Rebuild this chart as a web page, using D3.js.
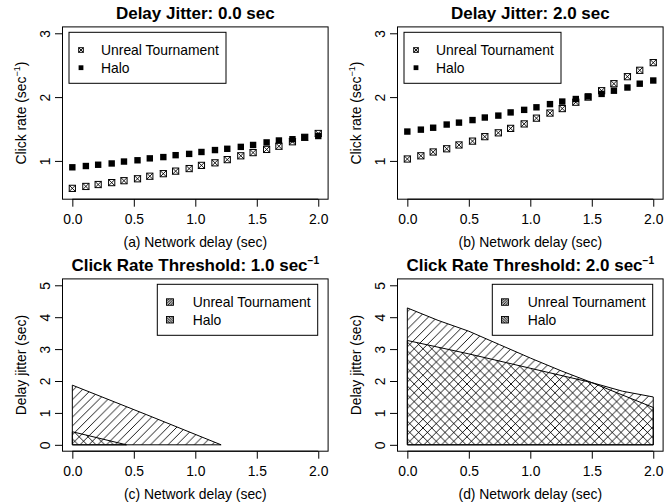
<!DOCTYPE html>
<html>
<head>
<meta charset="utf-8">
<script src="https://cdn.jsdelivr.net/npm/d3@7"></script>
<style>
body { margin: 0; background: #fff; }
svg { display: block; font-family: "Liberation Sans", Arial, Helvetica, sans-serif; }
</style>
</head>
<body>
<div id="chart"></div>
<script>
// network delay (sec) used in the two scatter panels
const delays = [0.00, 0.11, 0.21, 0.32, 0.42, 0.53, 0.63, 0.74, 0.84, 0.95,
                1.05, 1.16, 1.26, 1.37, 1.47, 1.58, 1.68, 1.79, 1.89, 2.00];

// click rate (1/sec), jitter 0.0 sec
const utJitter0 = [0.57, 0.60, 0.63, 0.66, 0.69, 0.72, 0.76, 0.80, 0.84, 0.88,
                   0.93, 0.97, 1.02, 1.08, 1.13, 1.18, 1.23, 1.30, 1.37, 1.43];
const haloJitter0 = [0.90, 0.92, 0.94, 0.96, 0.99, 1.01, 1.04, 1.06, 1.09, 1.11,
                     1.14, 1.17, 1.19, 1.22, 1.25, 1.29, 1.32, 1.34, 1.37, 1.39];

// click rate (1/sec), jitter 2.0 sec
const utJitter2 = [1.03, 1.08, 1.14, 1.19, 1.25, 1.31, 1.38, 1.44, 1.51, 1.58,
                   1.67, 1.75, 1.82, 1.92, 2.00, 2.10, 2.21, 2.32, 2.42, 2.54];
const haloJitter2 = [1.46, 1.49, 1.52, 1.57, 1.60, 1.64, 1.68, 1.71, 1.76, 1.80,
                     1.84, 1.89, 1.93, 1.97, 2.01, 2.05, 2.10, 2.15, 2.21, 2.26];

// max delay jitter (sec) below the click rate threshold
const utT1Delay = [0, 0.6, 1.21];
const utT1Jitter = [1.87, 0.95, 0];
const haloT1Delay = [0, 0.44];
const haloT1Jitter = [0.41, 0];

const utT2Delay = [0, 0.25, 0.5, 0.75, 1.0, 1.25, 1.5, 1.75, 2.0];
const utT2Jitter = [4.29, 3.90, 3.56, 3.14, 2.72, 2.32, 1.95, 1.68, 1.50];
const haloT2Delay = [0, 0.5, 1.0, 1.5, 2.0];
const haloT2Jitter = [3.27, 2.85, 2.40, 1.95, 1.17];

const xTicks = [0, 0.5, 1, 1.5, 2];
const xTickLabels = ["0.0", "0.5", "1.0", "1.5", "2.0"];
const rateTicks = [1, 2, 3];
const jitterTicks = [0, 1, 2, 3, 4, 5];
const gameNames = ["Unreal Tournament", "Halo"];

const box = { left: 62.5, right: 328.1, top: 26.9, bottom: 199.2 };
const labelSize = 13.9;
const titleSize = 17;

const svg = d3.select("#chart").append("svg")
    .attr("width", 670)
    .attr("height", 504);

// hatch patterns
const defs = svg.append("defs");
function hatch(id, s, up) {
    let p = defs.append("pattern")
        .attr("id", id)
        .attr("patternUnits", "userSpaceOnUse")
        .attr("width", s)
        .attr("height", s);
    let d = up
        ? `M0,${s} L${s},0 M${-s/4},${s/4} L${s/4},${-s/4} M${3*s/4},${5*s/4} L${5*s/4},${3*s/4}`
        : `M0,0 L${s},${s} M${-s/4},${3*s/4} L${s/4},${5*s/4} M${3*s/4},${-s/4} L${5*s/4},${s/4}`;
    p.append("path")
        .attr("d", d)
        .attr("stroke", "#000")
        .attr("stroke-width", 0.9)
        .attr("fill", "none");
}
hatch("hatchUp", 8.8, true);
hatch("hatchDown", 8.8, false);
hatch("keyUp", 2.6, true);
hatch("keyDown", 2.6, false);

function xScale() {
    return d3.scaleLinear().domain([-0.08, 2.08]).range([box.left, box.right]);
}

function drawFrame(g, x, y, yTicks, title, xlab, ylab, sup) {
    // bottom axis
    let ax = g.append("g")
        .attr("transform", `translate(0, ${box.bottom})`)
        .call(d3.axisBottom(x).tickValues(xTicks).tickSize(7.5).tickPadding(7.4)
            .tickFormat((d, i) => xTickLabels[i]));
    ax.select(".domain").remove();
    ax.selectAll("line").attr("stroke", "#000");
    ax.selectAll("text")
        .attr("font-size", labelSize)
        .attr("font-family", "Liberation Sans, Arial, sans-serif")
        .attr("fill", "#000");
    // axis line between first and last tick
    g.append("line")
        .attr("x1", x(0)).attr("x2", x(2))
        .attr("y1", box.bottom).attr("y2", box.bottom)
        .attr("stroke", "#000");

    // left axis, rotated labels
    let ay = g.append("g")
        .attr("transform", `translate(${box.left}, 0)`)
        .call(d3.axisLeft(y).tickValues(yTicks).tickSize(7.5).tickFormat(d3.format("d")));
    ay.select(".domain").remove();
    ay.selectAll("line").attr("stroke", "#000");
    ay.selectAll("text")
        .attr("font-size", labelSize)
        .attr("font-family", "Liberation Sans, Arial, sans-serif")
        .attr("fill", "#000")
        .attr("text-anchor", "middle")
        .attr("x", 0)
        .attr("y", -12.5)
        .attr("dy", 0)
        .attr("transform", "rotate(-90)");
    g.append("line")
        .attr("x1", box.left).attr("x2", box.left)
        .attr("y1", y(yTicks[0])).attr("y2", y(yTicks[yTicks.length - 1]))
        .attr("stroke", "#000");

    // plot box
    g.append("rect")
        .attr("x", box.left)
        .attr("y", box.top)
        .attr("width", box.right - box.left)
        .attr("height", box.bottom - box.top)
        .attr("fill", "none")
        .attr("stroke", "#000");

    // title
    let cx = (box.left + box.right) / 2;
    let t = g.append("text")
        .attr("x", cx)
        .attr("y", 19)
        .attr("text-anchor", "middle")
        .attr("font-weight", "bold")
        .attr("font-size", titleSize)
        .text(title);
    if (sup) {
        t.append("tspan").attr("font-size", titleSize * 0.6).attr("dy", -7).text("\u22121");
    }

    // x label
    g.append("text")
        .attr("x", cx)
        .attr("y", 247)
        .attr("text-anchor", "middle")
        .attr("font-size", labelSize)
        .text(xlab);

    // y label
    let yl = g.append("text")
        .attr("transform", `translate(25.5, ${(box.top + box.bottom) / 2}) rotate(-90)`)
        .attr("text-anchor", "middle")
        .attr("font-size", labelSize)
        .text(ylab[0]);
    if (ylab.length > 1) {
        yl.append("tspan").attr("font-size", labelSize * 0.65).attr("dy", -5.5).text("\u22121");
        yl.append("tspan").attr("dy", 5.5).text(ylab[1]);
    }
}

function drawUT(g, px, py, s) {
    let h = s / 2;
    g.append("rect")
        .attr("x", px - h).attr("y", py - h)
        .attr("width", s).attr("height", s)
        .attr("fill", "none").attr("stroke", "#000").attr("stroke-width", 1);
    g.append("path")
        .attr("d", `M${px - h},${py - h} L${px + h},${py + h} M${px - h},${py + h} L${px + h},${py - h}`)
        .attr("stroke", "#000").attr("stroke-width", 0.9);
}

function drawHalo(g, px, py, s) {
    g.append("rect")
        .attr("x", px - s / 2).attr("y", py - s / 2)
        .attr("width", s).attr("height", s)
        .attr("fill", "#000");
}

function scatterPanel(dx, title, xlab, ut, halo) {
    let g = svg.append("g").attr("transform", `translate(${dx}, 0)`);
    let x = xScale();
    let y = d3.scaleLinear().domain([0.4, 3.1]).range([box.bottom, box.top]);

    // legend
    g.append("rect")
        .attr("x", 69).attr("y", 32.3)
        .attr("width", 157).attr("height", 51)
        .attr("fill", "#fff").attr("stroke", "#000");
    drawUT(g, 81, 50, 4.6);
    drawHalo(g, 81, 67.7, 4.8);
    g.selectAll(".leg").data(gameNames).enter().append("text")
        .attr("x", 101)
        .attr("y", (d, i) => 55 + i * 17.7)
        .attr("font-size", labelSize)
        .text(d => d);

    delays.forEach((d, i) => drawUT(g, x(d), y(ut[i]), 6.2));
    delays.forEach((d, i) => drawHalo(g, x(d), y(halo[i]), 6.4));

    drawFrame(g, x, y, rateTicks, title, xlab, ["Click rate (sec", ")"], false);
}

function regionPanel(dx, title, xlab, utX, utY, haloX, haloY) {
    let g = svg.append("g").attr("transform", `translate(${dx}, 252)`);
    let x = xScale();
    let y = d3.scaleLinear().domain([-0.2, 5.2]).range([box.bottom, box.top]);

    function region(xs, ys, fill) {
        let pts = xs.map((d, i) => [x(d), y(ys[i])]);
        pts.push([x(xs[xs.length - 1]), y(0)]);
        pts.push([x(0), y(0)]);
        g.append("path")
            .attr("d", d3.line()(pts) + "Z")
            .attr("fill", `url(#${fill})`)
            .attr("stroke", "#000")
            .attr("stroke-width", 1);
    }
    region(utX, utY, "hatchUp");
    region(haloX, haloY, "hatchDown");

    // legend
    g.append("rect")
        .attr("x", 157.3).attr("y", 32.3)
        .attr("width", 160.4).attr("height", 51)
        .attr("fill", "#fff").attr("stroke", "#000");
    ["keyUp", "keyDown"].forEach((k, i) => {
        g.append("rect")
            .attr("x", 166.5).attr("y", 46.8 + i * 17.7)
            .attr("width", 7).attr("height", 6.5)
            .attr("fill", `url(#${k})`)
            .attr("stroke", "#000").attr("stroke-width", 0.9);
    });
    g.selectAll(".leg").data(gameNames).enter().append("text")
        .attr("x", 192.7)
        .attr("y", (d, i) => 55 + i * 17.7)
        .attr("font-size", labelSize)
        .text(d => d);

    drawFrame(g, x, y, jitterTicks, title, xlab, ["Delay jitter (sec)"], true);
}

scatterPanel(0, "Delay Jitter: 0.0 sec", "(a) Network delay (sec)", utJitter0, haloJitter0);
scatterPanel(335, "Delay Jitter: 2.0 sec", "(b) Network delay (sec)", utJitter2, haloJitter2);
regionPanel(0, "Click Rate Threshold: 1.0 sec", "(c) Network delay (sec)",
    utT1Delay, utT1Jitter, haloT1Delay, haloT1Jitter);
regionPanel(335, "Click Rate Threshold: 2.0 sec", "(d) Network delay (sec)",
    utT2Delay, utT2Jitter, haloT2Delay, haloT2Jitter);
</script>
</body>
</html>
